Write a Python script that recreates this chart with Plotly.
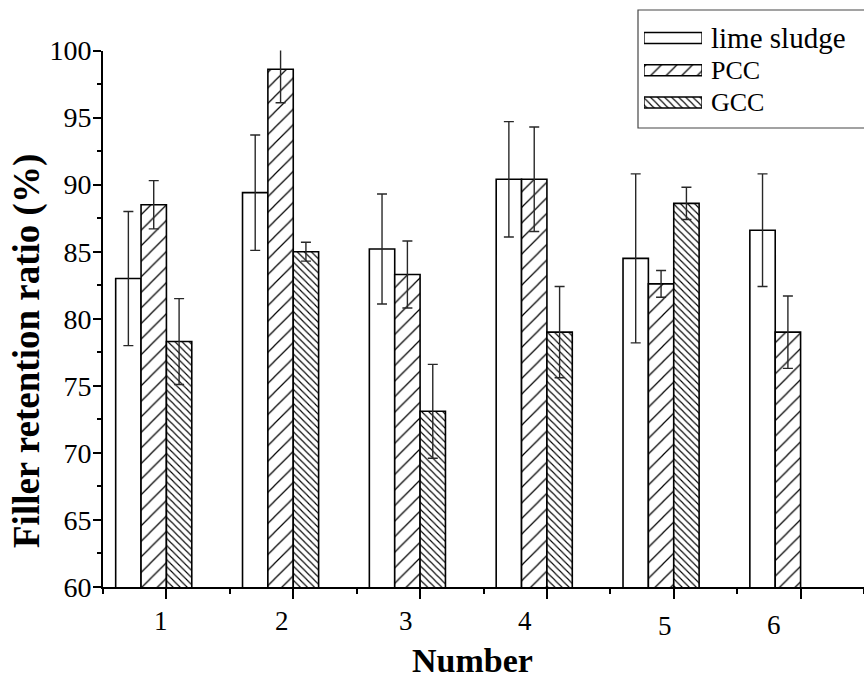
import plotly.graph_objects as go

# ---- data ----
numbers = [1, 2, 3, 4, 5, 6]
tick_labels = ["1", "2", "3", "4", "5", "6"]
series_names = ["lime sludge", "PCC", "GCC"]
lime_sludge = [83.0, 89.4, 85.2, 90.4, 84.5, 86.6]
lime_sludge_err = [5.0, 4.3, 4.1, 4.3, 6.3, 4.2]
pcc = [88.5, 98.6, 83.3, 90.4, 82.6, 79.0]
pcc_err = [1.8, 2.5, 2.5, 3.9, 1.0, 2.7]
gcc = [78.3, 85.0, 73.1, 79.0, 88.6, None]
gcc_err = [3.2, 0.7, 3.5, 3.4, 1.2, None]

# layout-only helpers (label placement as in the original figure)
label_dx = [-0.04, -0.085, -0.115, -0.17, -0.07, -0.21]
label_dy = [0, 0, 0, 0, -5, -4]
legend_font_sizes = [29, 26, 26]

FONT = "Liberation Serif"
W, H = 864, 679
ML, MB = 103, 92
PH = H - MB            # plot area height in px (margin top = 0)
main_top = 50.5        # px where y=100 sits


def py(px):
    """pixel row -> paper y"""
    return (PH - px) / PH


def pxx(px):
    return (px - ML) / (W - ML)


styles = [
    dict(shape="", size=8, solidity=0.1),
    dict(shape="/", size=11, solidity=0.11),
    dict(shape="\\", size=5, solidity=0.22),
]
offsets = [-0.4, -0.2, 0.0]
vals = [lime_sludge, pcc, gcc]
errs = [lime_sludge_err, pcc_err, gcc_err]

fig = go.Figure()
for name, v, e, st, off in zip(series_names, vals, errs, styles, offsets):
    pat = dict(fgcolor="black", bgcolor="white", fillmode="replace", **st) if st["shape"] else None
    fig.add_trace(go.Bar(
        x=numbers, y=v, name=name, width=0.2, offset=off,
        marker=dict(color="white", line=dict(color="black", width=1.6), pattern=pat),
        error_y=dict(type="data", array=e, visible=True, color="rgb(40,40,40)",
                     thickness=1.4, width=5),
        showlegend=False, xaxis="x", yaxis="y",
    ))

# custom legend swatches on hidden axes
for name, st in zip(series_names, styles):
    pat = dict(fgcolor="black", bgcolor="white", fillmode="replace", **st) if st["shape"] else None
    fig.add_trace(go.Bar(
        x=[1], y=[name], base=0, orientation="h", width=0.34,
        marker=dict(color="white", line=dict(color="black", width=1.3), pattern=pat),
        showlegend=False, xaxis="x2", yaxis="y2", hoverinfo="skip",
    ))

annotations = []
for n, lab, dx, dy in zip(numbers, tick_labels, label_dx, label_dy):
    annotations.append(dict(
        x=n + dx, y=py(621), xref="x", yref="paper", text=lab, showarrow=False,
        yshift=dy, xanchor="center", yanchor="middle",
        font=dict(family=FONT, size=27, color="black")))
annotations.append(dict(
    x=pxx(472), y=py(660), xref="paper", yref="paper", text="<b>Number</b>",
    showarrow=False, xanchor="center", yanchor="middle",
    font=dict(family=FONT, size=34, color="black")))
annotations.append(dict(
    x=pxx(27), y=py(351), xref="paper", yref="paper",
    text="<b>Filler retention ratio (%)</b>", textangle=-90,
    showarrow=False, xanchor="center", yanchor="middle",
    font=dict(family=FONT, size=37, color="black")))
for name, fs in zip(series_names, legend_font_sizes):
    annotations.append(dict(
        x=pxx(709), y=name, xref="paper", yref="y2", text=name, showarrow=False,
        xanchor="left", yanchor="middle",
        font=dict(family=FONT, size=fs, color="black")))

fig.update_layout(
    width=W, height=H,
    margin=dict(l=ML, r=0, t=0, b=MB, pad=0),
    plot_bgcolor="white", paper_bgcolor="white",
    barmode="overlay", showlegend=False,
    xaxis=dict(
        range=[0.5, 6.5], tickvals=numbers, showticklabels=False,
        ticks="outside", ticklen=10, tickwidth=2, tickcolor="black",
        minor=dict(dtick=0.5, tick0=0.5, ticks="outside", ticklen=5, tickwidth=2, tickcolor="black"),
        showline=True, linecolor="black", linewidth=2, showgrid=False, zeroline=False,
        anchor="y", automargin=False,
    ),
    yaxis=dict(
        range=[60, 100], dtick=5, tick0=60, domain=[0, py(main_top)],
        ticks="outside", ticklen=8, tickwidth=2, tickcolor="black",
        minor=dict(dtick=2.5, ticks="outside", ticklen=4, tickwidth=2, tickcolor="black"),
        showline=True, linecolor="black", linewidth=2, showgrid=False, zeroline=False,
        tickfont=dict(family=FONT, size=28, color="black"), anchor="x",
        automargin=False, ticklabelstandoff=-4,
    ),
    xaxis2=dict(domain=[pxx(644), pxx(702)], range=[0, 1], visible=False, anchor="y2",
                automargin=False),
    yaxis2=dict(domain=[py(119), py(20)], visible=False, anchor="x2",
                categoryorder="array", categoryarray=series_names, autorange="reversed",
                type="category", automargin=False),
    annotations=annotations,
    shapes=[dict(type="rect", xref="paper", yref="paper",
                 x0=pxx(638), x1=1.2, y0=py(128), y1=py(10),
                 line=dict(color="rgb(70,70,70)", width=1.2), fillcolor="rgba(0,0,0,0)")],
)

fig.write_html("out.html")
